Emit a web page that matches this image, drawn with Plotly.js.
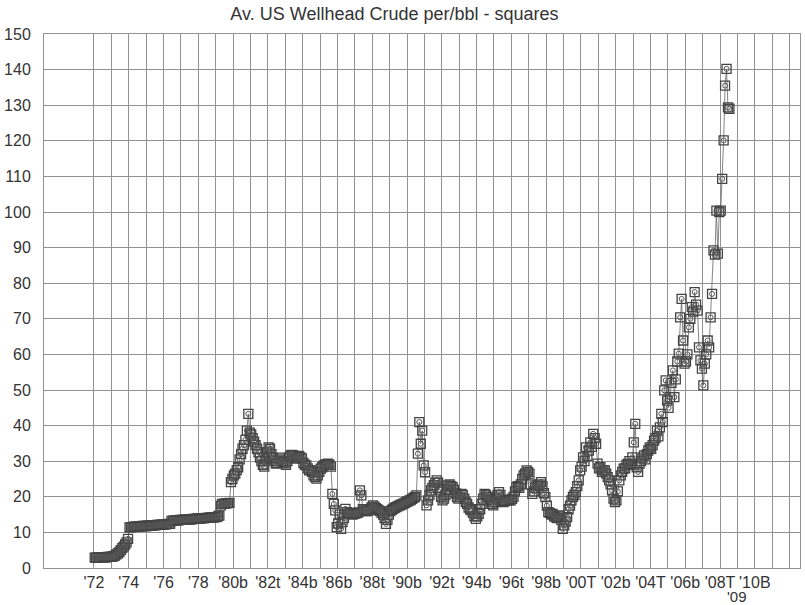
<!DOCTYPE html>
<html>
<head>
<meta charset="utf-8">
<script src="https://cdn.plot.ly/plotly-3.0.1.min.js"></script>
<style>html,body{margin:0;padding:0;background:#fff;}#chart{width:805px;height:605px;}</style>
</head>
<body>
<div id="chart"></div>
<script>
// Monthly average US wellhead crude price, $ per barrel
const start1 = 1972;
const prices1972_1979 = [
  2.9,2.9,2.9,3.0,3.0,3.0,3.0,3.0,3.0,3.1,3.1,3.1,
  3.2,3.3,3.5,3.8,4.1,4.5,5.0,5.6,6.0,6.6,7.2,8.2,
  11.4,11.5,11.5,11.6,11.6,11.6,11.7,11.7,11.7,11.8,11.8,11.8,
  11.8,11.9,11.9,11.9,12.0,12.0,12.0,12.1,12.1,12.1,12.2,12.2,
  12.2,12.3,12.3,12.4,12.4,13.2,13.3,13.3,13.4,13.4,13.4,13.5,
  13.5,13.5,13.6,13.6,13.6,13.7,13.7,13.7,13.8,13.8,13.8,13.9,
  13.9,13.9,14.0,14.0,14.0,14.1,14.1,14.1,14.2,14.2,14.2,14.3,
  14.3,14.5,14.7,17.5,18.0,18.0,18.1,18.2,18.2,18.3,24.1,25.0
];
const start2 = 1980;
const prices1980_1989 = [
  26.0,26.5,27.5,28.3,30.5,32.0,33.5,34.5,36.0,38.6,43.3,38.0,
  37.5,36.5,35.5,34.5,33.5,32.5,31.0,30.0,29.0,28.5,30.5,32.5,
  33.9,33.5,32.0,31.0,30.0,29.3,29.5,30.5,31.0,30.0,29.7,29.5,
  29.0,30.0,31.0,31.6,31.8,31.6,31.0,30.7,31.2,31.5,31.1,30.8,
  29.5,29.0,28.8,28.0,27.4,27.5,27.0,26.0,25.5,25.1,26.0,27.0,
  27.9,28.3,28.8,29.0,29.2,29.3,29.0,28.5,20.8,18.0,16.2,11.5,
  12.5,15.0,11.0,12.9,14.0,16.6,15.7,15.2,15.5,15.2,15.0,15.3,
  15.3,15.5,15.6,21.8,20.4,16.5,16.2,16.0,16.0,16.2,16.5,17.0,
  17.6,17.2,16.8,16.5,16.2,16.0,15.5,15.0,14.0,12.4,13.5,15.0,
  16.0,16.3,16.6,16.9,17.1,17.3,17.5,17.7,17.9,18.1,18.3,18.5
];
const start3 = 1990;
const prices1990_1999 = [
  18.7,18.9,19.1,19.4,19.7,20.0,20.4,32.1,41.0,34.9,38.6,28.8,
  26.9,17.6,19.0,20.5,21.8,22.5,23.3,24.0,24.6,24.0,22.0,20.0,
  19.0,19.5,20.5,22.0,23.2,23.5,23.0,22.7,22.0,21.0,19.9,19.5,
  20.0,20.8,20.5,19.5,18.5,18.0,17.0,16.5,16.2,15.5,14.5,13.8,
  14.5,15.2,16.5,18.0,19.5,20.8,20.5,20.0,19.9,19.0,18.0,17.6,
  18.5,19.5,20.5,21.3,20.5,19.0,18.5,18.8,19.0,19.2,19.0,19.0,
  19.4,20.0,21.5,22.7,23.0,22.5,23.5,25.0,26.0,26.5,27.4,27.0,
  26.5,23.5,20.8,21.5,22.5,23.2,23.0,23.5,24.1,23.0,21.0,19.9,
  17.5,15.7,15.5,15.0,15.2,14.5,14.3,14.0,14.5,14.8,13.5,11.0,
  12.0,13.0,14.3,16.5,17.5,19.0,20.0,20.5,21.3,23.0,24.6,27.4
];
const start4 = 2000;
const prices2000_2008 = [
  28.5,31.1,30.0,33.9,31.5,33.0,35.3,34.0,37.7,36.5,34.9,29.3,
  28.0,28.3,27.0,27.5,27.4,26.5,25.5,24.6,23.5,21.8,19.5,18.5,
  19.0,21.5,24.6,26.0,27.0,27.9,28.0,29.0,29.3,30.0,29.0,31.1,
  35.3,40.5,28.3,27.0,29.3,30.0,31.0,31.6,30.5,32.0,33.0,33.9,
  33.5,34.5,35.8,36.5,38.6,37.0,39.5,43.3,41.0,49.9,52.7,47.0,
  45.0,48.0,52.0,55.5,48.0,53.0,58.0,60.2,70.4,75.6,63.9,57.4,
  58.0,60.0,67.6,70.0,73.3,72.0,77.5,74.0,72.3,62.0,58.3,56.0,
  51.3,57.4,60.0,63.9,62.0,70.4,77.0,89.2,88.0,100.4,88.3,100.0,
  100.4,109.3,120.1,135.5,140.2,129.4,129.0
];

const tickYears = [1972,1974,1976,1978,1980,1982,1984,1986,1988,1990,1992,1994,1996,1998,2000,2002,2004,2006,2008,2010];
const tickLabels = ["'72","'74","'76","'78","'80b","'82t","'84b","'86b","'88t","'90b","'92t","'94b","'96t","'98b","'00T","'02b","'04T","'06b","'08T","'10B"];
const extraLabelYear = 2009;
const extraLabel = "'09";
const title = "Av. US Wellhead Crude per/bbl - squares";

// build monthly dates
const xs = [], ys = [];
[[start1,prices1972_1979],[start2,prices1980_1989],[start3,prices1990_1999],[start4,prices2000_2008]].forEach(([s,arr])=>{
  arr.forEach((v,i)=>{ xs.push(s + (i+0.5)/12); ys.push(v); });
});

// year grid: every year, labels every two years
const gridYears = [];
for (let y = 1972; y <= 2012; y++) gridYears.push(y);
const gridText = gridYears.map(y => { const k = tickYears.indexOf(y); return k >= 0 ? tickLabels[k] : ''; });

const traces = [
  {x: xs, y: ys, mode: 'lines+markers', type: 'scatter',
   line: {color: '#666', width: 0.8},
   marker: {symbol: 'square-open', size: 9, color: '#444', line: {width: 1.3, color: '#444'}},
   hoverinfo: 'skip', showlegend: false},
  {x: xs, y: ys, mode: 'markers', type: 'scatter',
   marker: {symbol: 'circle-open', size: 5, color: '#555', line: {width: 1, color: '#555'}},
   hoverinfo: 'skip', showlegend: false}
];

const layout = {
  width: 805, height: 605,
  margin: {l: 44, r: 5, t: 34, b: 37},
  paper_bgcolor: '#fff', plot_bgcolor: '#fff',
  title: {text: title, x: 0.49, xanchor: 'center', y: 1 - 14/605, yanchor: 'middle', yref: 'container',
          font: {family: 'Liberation Sans, Arial, sans-serif', size: 18, color: '#333'}},
  xaxis: {range: [1969.125, 2012.6], tickmode: 'array', tickvals: gridYears, ticktext: gridText,
          tickangle: 0,
          showgrid: true, gridcolor: '#929292', gridwidth: 1, zeroline: false,
          showline: true, linecolor: '#929292', linewidth: 1, mirror: true, ticks: '',
          tickfont: {family: 'Liberation Sans, Arial, sans-serif', size: 16, color: '#333'}},
  yaxis: {range: [0, 150], dtick: 10, tick0: 0, showgrid: true, gridcolor: '#929292', gridwidth: 1,
          zeroline: false, showline: true, linecolor: '#929292', linewidth: 1, mirror: true, ticks: '',
          ticklabelstandoff: 9,
          tickfont: {family: 'Liberation Sans, Arial, sans-serif', size: 16, color: '#333'}},
  annotations: [{x: extraLabelYear, y: -0.0535, xref: 'x', yref: 'paper', text: extraLabel, showarrow: false,
                 xanchor: 'center', yanchor: 'middle',
                 font: {family: 'Liberation Sans, Arial, sans-serif', size: 15, color: '#333'}}]
};

Plotly.newPlot('chart', traces, layout, {displayModeBar: false, staticPlot: true});
</script>
</body>
</html>
